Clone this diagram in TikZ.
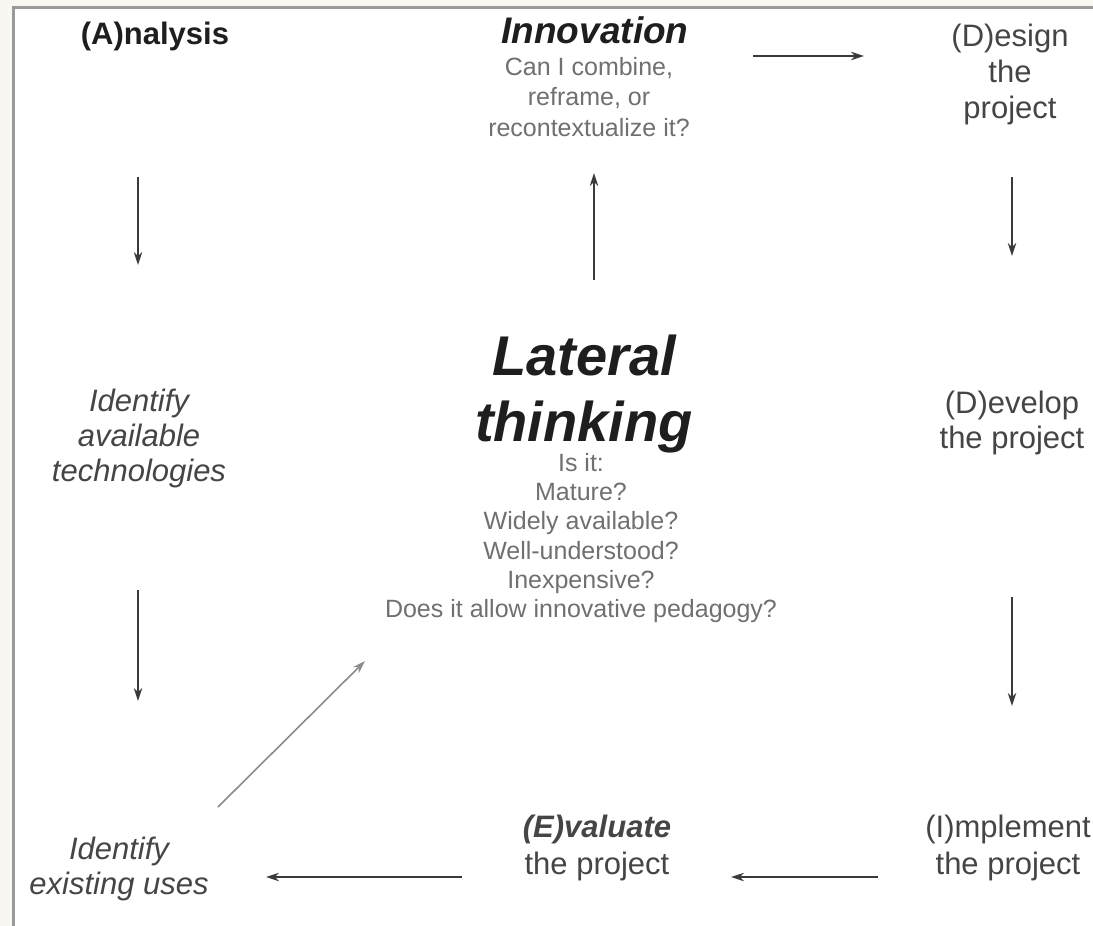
\documentclass[tikz,border=0pt]{standalone}
\usepackage{fontspec}
\setmainfont{Liberation Sans}
\usetikzlibrary{arrows.meta}
\definecolor{bgout}{HTML}{F8F7F2}
\definecolor{framec}{HTML}{9A9A9A}
\definecolor{titlec}{HTML}{1E1E1E}
\definecolor{midc}{HTML}{454545}
\definecolor{lightc}{HTML}{707070}
\definecolor{arrowc}{HTML}{3A3A3A}
\definecolor{diagc}{HTML}{8C8C8C}
\newcommand\fsz[2]{\fontsize{#1}{#2}\selectfont}
\begin{document}
\begin{tikzpicture}[x=0.5pt,y=-0.5pt,
  lbl/.style={inner sep=0pt,align=center},
  head/.style={lbl,text=titlec,font={\fsz{15.5}{18}\bfseries}},
  headit/.style={lbl,text=titlec,font={\fsz{18.5}{20}\bfseries\itshape}},
  big/.style={lbl,text=titlec,font={\fsz{28}{33}\bfseries\itshape}},
  stage/.style={lbl,text=midc,font={\fsz{15.5}{18}}},
  ital/.style={lbl,text=midc,font={\fsz{15.5}{17.5}\itshape}},
  note/.style={lbl,text=lightc,font={\fsz{12.5}{15}}},
  arr/.style={draw=arrowc,line width=0.9pt,-{Stealth[length=6.5pt,width=4.2pt]}},
  diag/.style={draw=diagc,line width=0.8pt,-{Stealth[length=6.5pt,width=4.2pt]}}
]
\useasboundingbox (0,0) rectangle (1093,926);
\fill[bgout] (0,0) rectangle (1093,926);
\fill[white] (14,8) rectangle (1093,926);
\draw[framec,line width=1.5pt] (1093,7.5) -- (13.5,7.5) -- (13.5,926);

% texts
\node[head] (A) at (155,36) {(A)nalysis};
\node[headit] (inno) at (595,30) {Innovation};
\node[note,font={\fsz{12.5}{15.25}}] (innoq) at (589,97) {Can I combine,\\reframe, or\\recontextualize it?};
\node[stage] (des) at (1010,74) {(D)esign\\the\\project};
\node[big] (lat) at (584,394) {Lateral\\thinking};
\node[note,font={\fsz{12.5}{14.65}}] (isit) at (581,538) {Is it:\\Mature?\\Widely available?\\Well-understood?\hspace*{10pt}\\Inexpensive?\\Does it allow innovative pedagogy?};
\node[ital] (tech) at (139,438) {Identify\\available\\technologies};
\node[stage,font={\fsz{15.5}{17.5}}] (dev) at (1012,423) {(D)evelop\\the project};
\node[ital] (uses) at (119,869) {Identify\\existing uses};
\node[stage,font={\fsz{15.5}{18.25}}] (eval) at (597,848) {\textbf{\textit{(E)valuate}}\\the project};
\node[stage,font={\fsz{15.5}{18.25}}] (impl) at (1008,848) {(I)mplement\\the project};

% arrow end points
\coordinate (a1s) at (138,177); \coordinate (a1e) at (138,265);
\coordinate (a2s) at (138,590); \coordinate (a2e) at (138,701);
\coordinate (d1s) at (1012,177); \coordinate (d1e) at (1012,256);
\coordinate (d2s) at (1012,597); \coordinate (d2e) at (1012,706);
\coordinate (ups) at (594,280); \coordinate (upe) at (594,173);
\coordinate (ts) at (753,56); \coordinate (te) at (864,56);
\coordinate (b1s) at (878,877); \coordinate (b1e) at (731,877);
\coordinate (b2s) at (462,877); \coordinate (b2e) at (266,877);
\coordinate (dgs) at (218,807); \coordinate (dge) at (365,661);

\draw[arr] (a1s) -- (a1e);
\draw[arr] (a2s) -- (a2e);
\draw[arr] (d1s) -- (d1e);
\draw[arr] (d2s) -- (d2e);
\draw[arr] (ups) -- (upe);
\draw[arr] (ts) -- (te);
\draw[arr] (b1s) -- (b1e);
\draw[arr] (b2s) -- (b2e);
\draw[diag] (dgs) -- (dge);
\end{tikzpicture}
\end{document}
